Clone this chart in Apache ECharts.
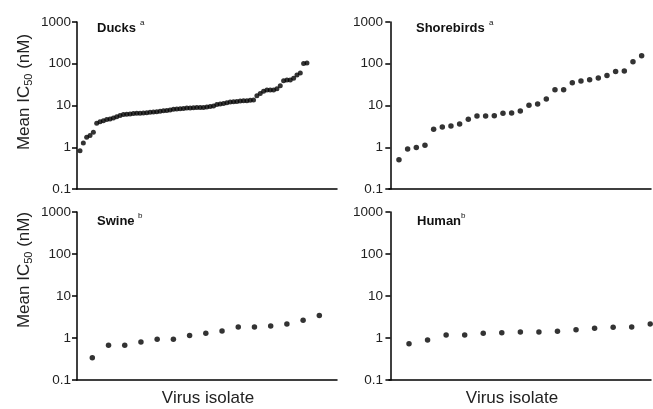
<!DOCTYPE html>
<html>
<head>
<meta charset="utf-8">
<script src="https://cdn.jsdelivr.net/npm/echarts@6/dist/echarts.min.js"></script>
<style>html,body{margin:0;padding:0;background:#fff}#c{width:653px;height:409px}</style>
</head>
<body>
<div id="c"></div>
<script>
// Mean IC50 (nM) per virus isolate, sorted ascending
var ducks = [0.83,1.27,1.73,1.9,2.3,3.75,4.1,4.3,4.6,4.75,5.0,5.4,5.8,6.1,6.2,6.3,6.4,6.5,6.5,6.6,6.75,6.9,7.0,7.1,7.3,7.5,7.6,7.8,8.1,8.2,8.4,8.5,8.7,8.7,8.8,8.9,9.0,9.0,9.2,9.4,9.7,10.5,10.8,11.2,11.7,12.1,12.3,12.5,12.8,13.0,13.0,13.3,13.5,17.2,19.5,21.8,23.4,23.4,23.4,25.3,29.8,39,40.7,40.7,45,54,60,102,104];
var shorebirds = [0.50,0.91,0.98,1.12,2.69,3.06,3.24,3.61,4.67,5.61,5.61,5.71,6.5,6.6,7.4,10.1,10.9,14.3,23.9,23.9,35.2,38.5,41.5,45.4,52.6,65.6,66.8,112,155];
var swine = [0.339,0.668,0.668,0.80,0.93,0.93,1.14,1.29,1.47,1.83,1.83,1.94,2.16,2.64,3.42];
var human = [0.73,0.90,1.18,1.18,1.29,1.34,1.39,1.39,1.44,1.58,1.70,1.80,1.83,2.16];
var yTicks = [0.1, 1, 10, 100, 1000];
var panelTitles = ['Ducks', 'Shorebirds', 'Swine', 'Human'];
var panelNotes = ['a', 'a', 'b', 'b'];
var xTitle = 'Virus isolate';

function toPairs(arr){ return arr.map(function(v,i){ return [i+1, v]; }); }
var sets = [ducks, shorebirds, swine, human];
var xRange = [[0.1,78],[-0.15,30.08],[0.056,16.09],[-0.078,14.04]];
var dotSize = [5, 5.5, 5.5, 5.5];
var grids = [
  {left:77, top:22, width:260, height:167},
  {left:389, top:22, width:262, height:167},
  {left:77, top:212, width:260, height:168},
  {left:389, top:212, width:262, height:168}
];
var font = 'Liberation Sans, Arial, sans-serif';
var chart = echarts.init(document.getElementById('c'), null, {renderer:'canvas'});
var xAxes = [], yAxes = [], series = [];
for (var k=0;k<4;k++){
  xAxes.push({type:'value', gridIndex:k, min:xRange[k][0], max:xRange[k][1],
    axisLine:{show:true, onZero:false, lineStyle:{color:'#000', width:1.5}},
    axisTick:{show:false}, axisLabel:{show:false}, splitLine:{show:false}});
  yAxes.push({type:'log', logBase:10, gridIndex:k, min:0.1, max:1000,
    axisLine:{show:true, lineStyle:{color:'#000', width:1.5}},
    axisTick:{show:true, length:5, lineStyle:{color:'#000', width:1.5}},
    minorTick:{show:false},
    axisLabel:{show:true, color:'#222', fontSize:13.5, fontFamily:font, margin:6,
      formatter:function(v){ return String(yTicks.reduce(function(a,b){ return Math.abs(Math.log10(b)-Math.log10(v))<1e-6?b:a; }, v)); }},
    splitLine:{show:false}});
  series.push({type:'scatter', xAxisIndex:k, yAxisIndex:k, data:toPairs(sets[k]),
    symbol:'circle', symbolSize:dotSize[k], clip:false, itemStyle:{color:'#000'}, silent:true});
}
var graphics = [];
var titlePos = [[97,22],[416,22],[97,215],[417,215]];
for (var k=0;k<4;k++){
  graphics.push({type:'text', x:titlePos[k][0], y:titlePos[k][1],
    style:{text:panelTitles[k], font:'bold 13px '+font, fill:'#111', textVerticalAlign:'top'}});
}
var noteX = [140,489,138,461];
for (var k=0;k<4;k++){
  graphics.push({type:'text', x:noteX[k], y:titlePos[k][1]-3,
    style:{text:panelNotes[k], font:'8px '+font, fill:'#111', textVerticalAlign:'top'}});
}
var yNameY = [92, 270];
for (var k=0;k<2;k++){
  graphics.push({type:'text', x:24, y:yNameY[k], rotation:Math.PI/2,
    style:{text:'{a|Mean IC}{s|50}{a| (nM)}', textAlign:'center', textVerticalAlign:'middle',
      rich:{a:{fontSize:17, fontFamily:font, fill:'#222', color:'#222'},
            s:{fontSize:11, fontFamily:font, fill:'#222', color:'#222', padding:[9,0,0,0]}}}});
}
var xNameX = [208, 512];
for (var k=0;k<2;k++){
  graphics.push({type:'text', x:xNameX[k], y:398,
    style:{text:xTitle, font:'17px '+font, fill:'#222', textAlign:'center', textVerticalAlign:'middle'}});
}
chart.setOption({
  animation:false,
  grid:grids, xAxis:xAxes, yAxis:yAxes, series:series, graphic:graphics
});
</script>
</body>
</html>
